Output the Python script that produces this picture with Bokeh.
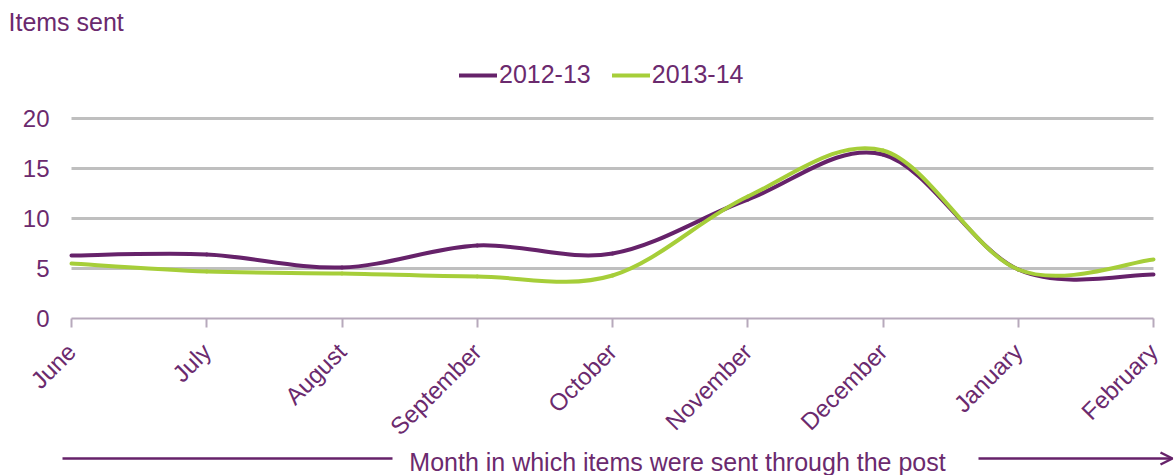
import math
from bokeh.plotting import figure
from bokeh.models import (Range1d, FixedTicker, Legend, LegendItem, Label,
                          Arrow, OpenHead)
from bokeh.embed import file_html
from bokeh.resources import INLINE

# ---- data ----
months = ["June", "July", "August", "September", "October",
          "November", "December", "January", "February"]
items_2012_13 = [6.3, 6.4, 5.1, 7.3, 6.5, 11.9, 16.4, 4.9, 4.4]
items_2013_14 = [5.5, 4.7, 4.5, 4.2, 4.3, 12.2, 16.8, 4.9, 5.9]
series_names = ["2012-13", "2013-14"]
y_ticks = [0, 5, 10, 15, 20]

PURPLE = "#66226A"
GREEN = "#A6CE39"
TEXT = "#6B2A6E"
AXIS = "#B7A9BC"
FONT = "Liberation Sans"

W, H = 1174, 475
LEFT, RIGHT, BOTTOM, TOP = 71, 1153, 318, 118   # pixel frame of the data area
px = (RIGHT - LEFT) / (len(months) - 1)          # pixels per month
py = (BOTTOM - TOP) / 20.0                       # pixels per item

xs = list(range(len(months)))

p = figure(width=W, height=H, output_backend="svg", toolbar_location=None,
           x_range=Range1d(-LEFT / px, (W - LEFT) / px),
           y_range=Range1d(-(H - BOTTOM) / py, BOTTOM / py),
           min_border=0)
p.outline_line_color = None
p.background_fill_color = "white"
p.border_fill_color = "white"

# grid
p.xgrid.visible = False
p.ygrid.ticker = FixedTicker(ticks=[t for t in y_ticks if t > 0])
p.ygrid.cross_bounds = (0, len(months) - 1)
p.ygrid.grid_line_color = "#BFBFBF"
p.ygrid.grid_line_width = 3

# y axis
p.yaxis.fixed_location = 0
p.yaxis.bounds = (0, 20)
p.yaxis.ticker = FixedTicker(ticks=y_ticks)
p.yaxis.axis_line_color = None
p.yaxis.major_tick_line_color = None
p.yaxis.minor_tick_line_color = None
p.yaxis.major_tick_out = 0
p.yaxis.major_tick_in = 0
p.yaxis.major_label_standoff = 22
p.yaxis.major_label_text_font = FONT
p.yaxis.major_label_text_font_size = "24px"
p.yaxis.major_label_text_color = TEXT

# x axis
p.xaxis.fixed_location = 0
p.xaxis.bounds = (0, len(months) - 1)
p.xaxis.ticker = FixedTicker(ticks=xs)
p.xaxis.major_label_overrides = {i: m for i, m in enumerate(months)}
p.xaxis.major_label_orientation = math.pi / 4
p.xaxis.axis_line_color = AXIS
p.xaxis.axis_line_width = 2
p.xaxis.major_tick_line_color = AXIS
p.xaxis.major_tick_line_width = 2
p.xaxis.major_tick_out = 9
p.xaxis.major_tick_in = 0
p.xaxis.minor_tick_line_color = None
p.xaxis.major_label_standoff = 20
p.xaxis.major_label_text_font = FONT
p.xaxis.major_label_text_font_size = "24px"
p.xaxis.major_label_text_color = TEXT


def smooth_segments(x, y):
    n = len(x)
    seg = dict(x0=[], y0=[], x1=[], y1=[], cx0=[], cy0=[], cx1=[], cy1=[])
    for i in range(n - 1):
        a = i - 1 if i > 0 else i
        d = i + 2 if i + 2 < n else i + 1
        seg["x0"].append(x[i]); seg["y0"].append(y[i])
        seg["x1"].append(x[i + 1]); seg["y1"].append(y[i + 1])
        seg["cx0"].append(x[i] + (x[i + 1] - x[a]) / 6)
        seg["cy0"].append(y[i] + (y[i + 1] - y[a]) / 6)
        seg["cx1"].append(x[i + 1] - (x[d] - x[i]) / 6)
        seg["cy1"].append(y[i + 1] - (y[d] - y[i]) / 6)
    return seg


legend_items = []
for name, vals, col in [(series_names[0], items_2012_13, PURPLE),
                        (series_names[1], items_2013_14, GREEN)]:
    r = p.bezier(source=smooth_segments(xs, vals), x0="x0", y0="y0", x1="x1", y1="y1",
                 cx0="cx0", cy0="cy0", cx1="cx1", cy1="cy1",
                 line_color=col, line_width=4, line_cap="round")
    legend_items.append(LegendItem(label=name, renderers=[r], index=0))

legend = Legend(items=legend_items, orientation="horizontal",
                location=(459, H - 89),
                padding=0, margin=0, spacing=21, glyph_width=38, glyph_height=20,
                label_standoff=2, label_text_font=FONT, label_text_font_size="25px",
                label_text_color=TEXT, border_line_color=None,
                background_fill_alpha=0)
p.add_layout(legend)

def dx(pix):
    return (pix - LEFT) / px

def dy(pix):
    return (BOTTOM - pix) / py

p.add_layout(Label(x=dx(8), y=dy(21), text="Items sent", text_font=FONT,
                   text_font_size="25px", text_color=TEXT,
                   text_align="left", text_baseline="alphabetic"))
p.add_layout(Label(x=dx(677), y=dy(461),
                   text="Month in which items were sent through the post",
                   text_font=FONT, text_font_size="25px", text_color=TEXT,
                   text_align="center", text_baseline="alphabetic"))
p.add_layout(Arrow(x_start=dx(62), y_start=dy(458), x_end=dx(392),
                   y_end=dy(458), end=None, line_color=PURPLE, line_width=2.5))
p.add_layout(Arrow(x_start=dx(978), y_start=dy(458), x_end=dx(1172),
                   y_end=dy(458), line_color=PURPLE, line_width=2.5,
                   end=OpenHead(size=12, line_color=PURPLE, line_width=2.5)))

open("out.html", "w").write(file_html(p, INLINE))
